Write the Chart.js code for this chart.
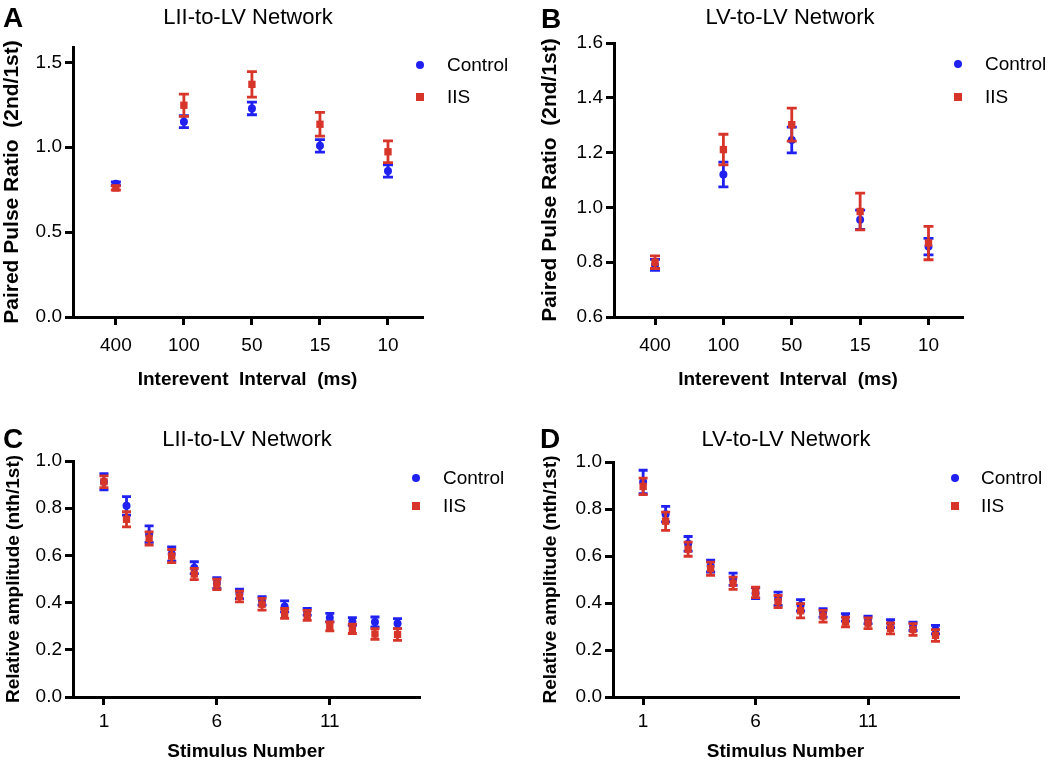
<!DOCTYPE html>
<html>
<head>
<meta charset="utf-8">
<script src="https://cdn.jsdelivr.net/npm/chart.js@4.4.1/dist/chart.umd.min.js"></script>
<style>
  html, body { margin: 0; padding: 0; background: #fff; }
  body { width: 1050px; height: 760px; overflow: hidden; position: relative;
         font-family: "Liberation Sans", Arial, Helvetica, sans-serif; color: #000; }
  canvas { position: absolute; }
  .lbl { position: absolute; transform: translate(-50%, -50%); white-space: nowrap; }
  .letter { position: absolute; font-weight: bold; font-size: 28px; line-height: 1; }
  .title { font-size: 22px; }
  .leg { position: absolute; font-size: 19px; transform: translateY(-50%); white-space: nowrap; }
  .dot { position: absolute; width: 8px; height: 8px; border-radius: 50%; transform: translate(-50%, -50%); }
  .sq { position: absolute; width: 8px; height: 8px; transform: translate(-50%, -50%); }
</style>
</head>
<body>
<canvas id="chartA" width="525" height="395" style="left:0;top:0"></canvas>
<canvas id="chartB" width="525" height="395" style="left:525px;top:0"></canvas>
<canvas id="chartC" width="525" height="375" style="left:0;top:390px"></canvas>
<canvas id="chartD" width="525" height="375" style="left:525px;top:390px"></canvas>

<div class="letter" style="left:3px;top:4px">A</div>
<div class="letter" style="left:541px;top:5px">B</div>
<div class="letter" style="left:3px;top:425px">C</div>
<div class="letter" style="left:540px;top:425px">D</div>

<div class="lbl title" style="left:248px;top:17px">LII-to-LV Network</div>
<div class="lbl title" style="left:790px;top:17px">LV-to-LV Network</div>
<div class="lbl title" style="left:247px;top:439px">LII-to-LV Network</div>
<div class="lbl title" style="left:786px;top:439px">LV-to-LV Network</div>

<div id="legends"></div>

<script>
const BLUE = "#2020f0";
const RED = "#d8352a";

// Panels A and B: interevent interval categories
const intervalLabels = ["400", "100", "50", "15", "10"];
const intervalIndex = [0, 1, 2, 3, 4];

const aControl = [0.785, 1.15, 1.228, 1.008, 0.86];
const aControlErr = [0.01, 0.035, 0.037, 0.037, 0.036];
const aIIS = [0.76, 1.247, 1.37, 1.135, 0.973];
const aIISErr = [0.012, 0.065, 0.075, 0.07, 0.064];

const bControl = [0.79, 1.12, 1.246, 0.955, 0.857];
const bControlErr = [0.02, 0.045, 0.047, 0.035, 0.03];
const bIIS = [0.80, 1.211, 1.302, 0.985, 0.87];
const bIISErr = [0.023, 0.056, 0.06, 0.067, 0.061];

// Panels C and D: stimulus number
const stimulusNumbers = [1, 2, 3, 4, 5, 6, 7, 8, 9, 10, 11, 12, 13, 14];
const stimulusTicks = [1, 6, 11];

const cControl = [0.912, 0.81, 0.69, 0.606, 0.548, 0.483, 0.437, 0.407, 0.384, 0.361, 0.336, 0.32, 0.318, 0.311];
const cControlErr = [0.034, 0.039, 0.035, 0.03, 0.025, 0.023, 0.02, 0.018, 0.023, 0.014, 0.018, 0.016, 0.021, 0.021];
const cIIS = [0.912, 0.753, 0.672, 0.597, 0.521, 0.477, 0.426, 0.393, 0.354, 0.346, 0.299, 0.289, 0.267, 0.265];
const cIISErr = [0.025, 0.032, 0.028, 0.028, 0.024, 0.022, 0.023, 0.025, 0.021, 0.021, 0.019, 0.02, 0.023, 0.025];

const dControl = [0.915, 0.778, 0.652, 0.557, 0.501, 0.442, 0.418, 0.39, 0.358, 0.339, 0.328, 0.312, 0.301, 0.287];
const dControlErr = [0.05, 0.033, 0.031, 0.025, 0.026, 0.023, 0.028, 0.024, 0.018, 0.016, 0.016, 0.017, 0.018, 0.018];
const dIIS = [0.896, 0.748, 0.629, 0.546, 0.484, 0.445, 0.406, 0.367, 0.344, 0.319, 0.314, 0.292, 0.287, 0.262];
const dIISErr = [0.035, 0.039, 0.03, 0.028, 0.026, 0.022, 0.026, 0.03, 0.025, 0.021, 0.023, 0.023, 0.025, 0.025];

const FONT = "'Liberation Sans', Arial, Helvetica, sans-serif";

// draws mean ± SEM bars right before each dataset's points
const errorBarPlugin = {
  id: "errorBars",
  beforeDatasetDraw(chart, args, opts) {
    const ds = chart.data.datasets[args.index];
    if (!ds.errors) return;
    const yScale = chart.scales[args.meta.yAxisID];
    const ctx = chart.ctx;
    const w = opts.capHalf || 5;
    ctx.save();
    ctx.strokeStyle = ds.borderColor;
    ctx.lineWidth = 2.8;
    args.meta.data.forEach((pt, i) => {
      const v = ds.data[i].y;
      const e = ds.errors[i];
      const top = yScale.getPixelForValue(v + e);
      const bot = yScale.getPixelForValue(v - e);
      ctx.beginPath();
      ctx.moveTo(pt.x, top);
      ctx.lineTo(pt.x, bot);
      ctx.moveTo(pt.x - w, top);
      ctx.lineTo(pt.x + w, top);
      ctx.moveTo(pt.x - w, bot);
      ctx.lineTo(pt.x + w, bot);
      ctx.stroke();
    });
    ctx.restore();
  },
};

function toPoints(xs, ys) {
  return xs.map((x, i) => ({ x, y: ys[i] }));
}

function makePanel(id, o) {
  const ctx = document.getElementById(id).getContext("2d");
  return new Chart(ctx, {
    type: "scatter",
    data: {
      datasets: [
        {
          label: "Control",
          data: toPoints(o.xs, o.control),
          errors: o.controlErr,
          borderColor: BLUE,
          backgroundColor: BLUE,
          pointStyle: "circle",
          pointRadius: 4,
          pointBorderWidth: 0,
          order: 1,
        },
        {
          label: "IIS",
          data: toPoints(o.xs, o.iis),
          errors: o.iisErr,
          borderColor: RED,
          backgroundColor: RED,
          pointStyle: "rect",
          pointRadius: 5.2,
          pointBorderWidth: 0,
          order: 0,
        },
      ],
    },
    options: {
      responsive: false,
      animation: false,
      events: [],
      layout: { padding: { left: 0, top: o.padTop, right: o.padRight, bottom: 0 } },
      plugins: {
        legend: { display: false },
        tooltip: { enabled: false },
        errorBars: { capHalf: o.capHalf },
      },
      scales: {
        x: {
          type: "linear",
          min: o.xMin,
          max: o.xMax,
          afterBuildTicks: (s) => { s.ticks = o.xTicks.map((v) => ({ value: v })); },
          afterFit: (s) => { s.height = o.xHeight; },
          ticks: {
            color: "#000",
            font: { family: FONT, size: 19 },
            padding: o.xTickPad,
            maxRotation: 0,
            callback: o.xLabel,
          },
          grid: { drawOnChartArea: false, color: "#000", lineWidth: 3, tickLength: 8 },
          border: { display: true, color: "#000", width: 3 },
          title: {
            display: true,
            text: o.xTitle,
            color: "#000",
            font: { family: FONT, size: 19, weight: "bold" },
            padding: { top: 0, bottom: o.xTitlePad },
          },
        },
        y: {
          type: "linear",
          min: o.yMin,
          max: o.yMax,
          afterBuildTicks: (s) => { s.ticks = o.yTicks.map((v) => ({ value: v })); },
          afterFit: (s) => { s.width = o.yWidth; },
          ticks: {
            color: "#000",
            font: { family: FONT, size: 19 },
            padding: 3,
            callback: (v) => Number(v).toFixed(1),
          },
          grid: { drawOnChartArea: false, color: "#000", lineWidth: 3, tickLength: 8 },
          border: { display: true, color: "#000", width: 3 },
          title: {
            display: true,
            text: o.yTitle,
            color: "#000",
            font: { family: FONT, size: o.yTitleSize, weight: "bold" },
            padding: { top: o.yTitlePad, bottom: 0 },
          },
        },
      },
    },
    plugins: [errorBarPlugin],
  });
}

const intervalLabel = (v) => intervalLabels[v] ?? "";

makePanel("chartA", {
  xs: intervalIndex, control: aControl, controlErr: aControlErr, iis: aIIS, iisErr: aIISErr,
  xMin: -0.63, xMax: 4.5, xTicks: intervalIndex, xLabel: intervalLabel,
  yMin: 0, yMax: 1.59, yTicks: [0, 0.5, 1.0, 1.5],
  padTop: 47, padRight: 103, yWidth: 73, xHeight: 78,
  xTickPad: 9, xTitlePad: 4, yTitlePad: 0, yTitleSize: 21, capHalf: 5,
  xTitle: "Interevent  Interval  (ms)", yTitle: "Paired Pulse Ratio  (2nd/1st)",
});

makePanel("chartB", {
  xs: intervalIndex, control: bControl, controlErr: bControlErr, iis: bIIS, iisErr: bIISErr,
  xMin: -0.6, xMax: 4.49, xTicks: intervalIndex, xLabel: intervalLabel,
  yMin: 0.6, yMax: 1.6, yTicks: [0.6, 0.8, 1.0, 1.2, 1.4, 1.6],
  padTop: 43, padRight: 88, yWidth: 89, xHeight: 78,
  xTickPad: 9, xTitlePad: 4, yTitlePad: 13, yTitleSize: 21, capHalf: 5,
  xTitle: "Interevent  Interval  (ms)", yTitle: "Paired Pulse Ratio  (2nd/1st)",
});

makePanel("chartC", {
  xs: stimulusNumbers, control: cControl, controlErr: cControlErr, iis: cIIS, iisErr: cIISErr,
  xMin: -0.37, xMax: 14.95, xTicks: stimulusTicks, xLabel: (v) => String(v),
  yMin: 0, yMax: 1.0, yTicks: [0, 0.2, 0.4, 0.6, 0.8, 1.0],
  padTop: 71, padRight: 106, yWidth: 73, xHeight: 68,
  xTickPad: 5, xTitlePad: 2, yTitlePad: 2, yTitleSize: 19, capHalf: 4.5,
  xTitle: "Stimulus Number", yTitle: "Relative amplitude (nth/1st)",
});

makePanel("chartD", {
  xs: stimulusNumbers, control: dControl, controlErr: dControlErr, iis: dIIS, iisErr: dIISErr,
  xMin: -0.34, xMax: 15.0, xTicks: stimulusTicks, xLabel: (v) => String(v),
  yMin: 0, yMax: 1.0, yTicks: [0, 0.2, 0.4, 0.6, 0.8, 1.0],
  padTop: 72, padRight: 92, yWidth: 88, xHeight: 68,
  xTickPad: 5, xTitlePad: 2, yTitlePad: 14, yTitleSize: 19, capHalf: 4.5,
  xTitle: "Stimulus Number", yTitle: "Relative amplitude (nth/1st)",
});

// legends, placed to the right of each plot
const legendSpots = [
  { mx: 420, tx: 447, y1: 65, y2: 97 },
  { mx: 958, tx: 985, y1: 64, y2: 97 },
  { mx: 416, tx: 443, y1: 478, y2: 506 },
  { mx: 955, tx: 981, y1: 478, y2: 506 },
];
const legendBox = document.getElementById("legends");
legendSpots.forEach((p) => {
  legendBox.insertAdjacentHTML("beforeend",
    `<div class="dot" style="left:${p.mx}px;top:${p.y1}px;background:${BLUE}"></div>` +
    `<div class="leg" style="left:${p.tx}px;top:${p.y1}px">Control</div>` +
    `<div class="sq" style="left:${p.mx}px;top:${p.y2}px;background:${RED}"></div>` +
    `<div class="leg" style="left:${p.tx}px;top:${p.y2}px">IIS</div>`);
});
</script>
</body>
</html>
